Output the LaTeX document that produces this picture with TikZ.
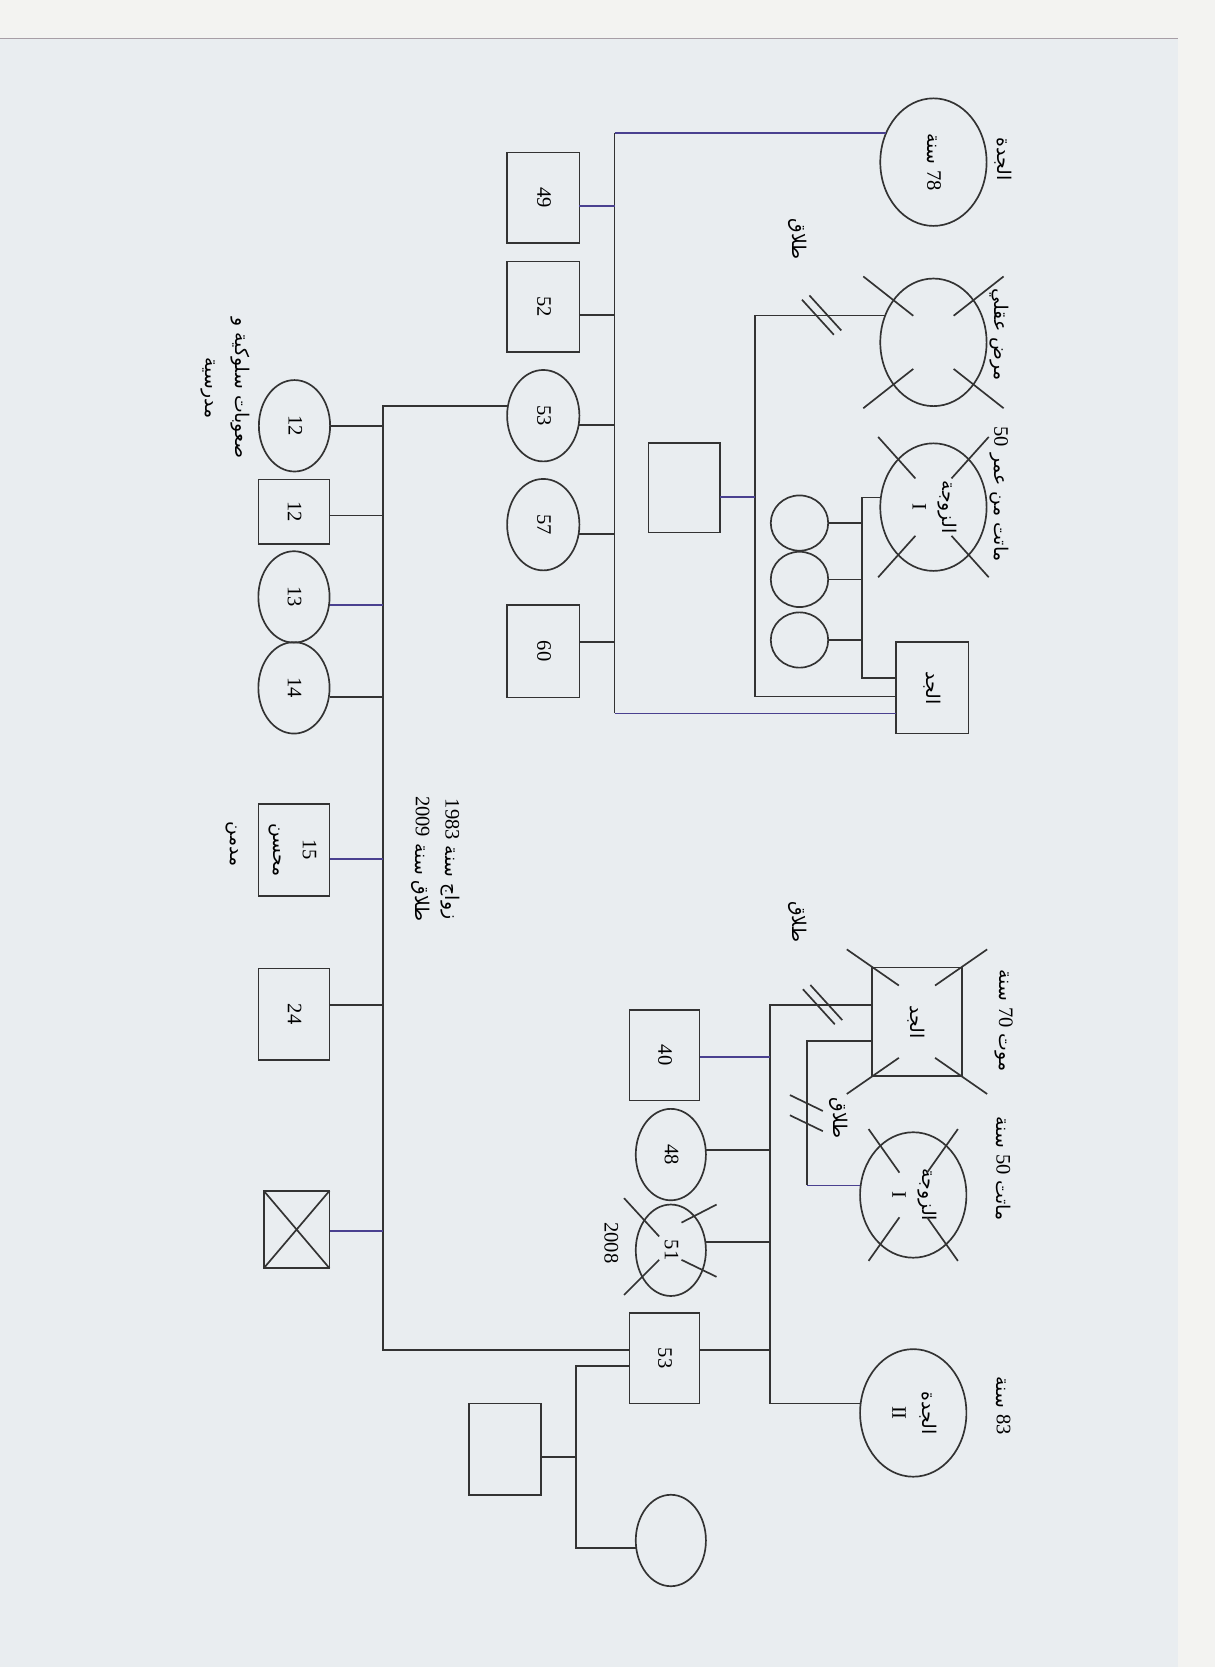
\documentclass[tikz,border=0pt]{standalone}
\usepackage{fontspec}
\usepackage{graphicx}
\setmainfont{Liberation Serif}
\newfontfamily\arabicfont[Script=Arabic,Scale=0.92]{DejaVu Sans}
\TeXXeTstate=1
\usetikzlibrary{shapes.geometric,calc}
\definecolor{ink}{HTML}{333333}
\definecolor{scanTint}{HTML}{4A4190}
\definecolor{paperFill}{HTML}{E9EDF0}
\definecolor{marginFill}{HTML}{F3F3F1}
\definecolor{edgeLine}{HTML}{A79EA6}
\newcommand{\ar}[1]{{\arabicfont\beginR #1\endR}}
\newcommand{\vt}[1]{\rotatebox[origin=c]{-90}{\begin{tabular}{@{}c@{}}#1\end{tabular}}}
\newcommand{\deadmark}[5]{%
  \draw[link] ($(#1)+(-#4,-#5)$) -- ($(#1)+(-#2,-#3)$);
  \draw[link] ($(#1)+(#2,-#3)$) -- ($(#1)+(#4,-#5)$);
  \draw[link] ($(#1)+(-#4,#5)$) -- ($(#1)+(-#2,#3)$);
  \draw[link] ($(#1)+(#2,#3)$) -- ($(#1)+(#4,#5)$);}
\newcommand{\splitH}[1]{\draw[link] ($(#1)+(-17,-15)$) -- ($(#1)+(13,18)$) ($(#1)+(-10,-19)$) -- ($(#1)+(20,14)$);}
\newcommand{\splitV}[1]{\draw[link] ($(#1)+(-16,-17)$) -- ($(#1)+(15,-2)$) ($(#1)+(-16,2)$) -- ($(#1)+(15,17)$);}
\tikzset{
  link/.style={draw=ink, line width=0.9pt},
  tintLink/.style={link, draw=scanTint},
  person/.style={draw=ink, line width=0.9pt, inner sep=0pt, outer sep=0pt,
    font=\fontsize{11}{16}\selectfont},
  maleBox/.style={person, rectangle, minimum width=13.6mm, minimum height=17mm},
  femCirc/.style={person, ellipse, minimum width=13.6mm, minimum height=17.2mm},
  elderCirc/.style={person, ellipse, minimum width=20mm, minimum height=24mm},
  tinyCirc/.style={person, ellipse, minimum width=10.8mm, minimum height=10.4mm},
  note/.style={rotate=-90, inner sep=0pt, align=center, font=\fontsize{11}{16}\selectfont},
}

\begin{document}
\begin{tikzpicture}[x=0.2mm, y=-0.2mm]
  \useasboundingbox (0,0) rectangle (1143,1568);
  \fill[marginFill] (0,0) rectangle (1143,1568);
  \fill[paperFill] (0,36) rectangle (1108,1568);
  \draw[edgeLine, line width=0.6pt] (0,36) -- (1108,36);

  \node[elderCirc] (g1) at (878,152.5) {\vt{\ar{{\rmfamily 78} سنة}}};
  \node[elderCirc] (w2) at (878,322) {};
  \node[elderCirc] (w1) at (878,477) {\vt{\ar{الزوجة}\\I}};
  \node[maleBox, minimum height=17.2mm] (gp1) at (877,647) {\vt{\ar{الجد}}};
  \node[tinyCirc] (s1) at (752,492) {};
  \node[tinyCirc] (s2) at (752,545) {};
  \node[tinyCirc] (s3) at (752,602) {};
  \node[maleBox, minimum width=13.4mm, minimum height=16.8mm] (mk) at (643.5,459) {};
  \node[maleBox] (b49) at (511,186) {\vt{49}};
  \node[maleBox] (b52) at (511,288.5) {\vt{52}};
  \node[femCirc] (c53) at (511,391) {\vt{53}};
  \node[femCirc] (c57) at (511,493.5) {\vt{57}};
  \node[maleBox, minimum height=17.4mm] (b60) at (511,612.5) {\vt{60}};

  \node[femCirc, minimum width=13.4mm] (c12) at (277,400.5) {\vt{12}};
  \node[maleBox, minimum width=13.4mm, minimum height=12.2mm] (b12) at (276.5,481.5) {\vt{12}};
  \node[femCirc, minimum width=13.4mm] (c13) at (276.5,561.5) {\vt{13}};
  \node[femCirc, minimum width=13.4mm] (c14) at (276.5,647) {\vt{14}};
  \node[maleBox, minimum width=13.4mm, minimum height=17.4mm] (b15) at (276.5,799.5) {\vt{15\\\ar{محسن}}};
  \node[maleBox, minimum width=13.4mm, minimum height=17.2mm] (b24) at (276.5,954) {\vt{24}};
  \node[maleBox, minimum width=12.4mm, minimum height=14.6mm] (bX) at (279,1156.5) {};

  \node[maleBox, minimum width=17mm, minimum height=20.4mm] (gp2) at (862.5,961) {\vt{\ar{الجد}}};
  \node[elderCirc, minimum height=23.6mm] (w1b) at (859,1124) {\vt{\ar{الزوجة}\\I}};
  \node[elderCirc] (gm2) at (859,1329) {\vt{\ar{الجدة}\\II}};
  \node[maleBox, minimum width=13.2mm] (b40) at (625,992.5) {\vt{40}};
  \node[femCirc, minimum width=13.2mm] (c48) at (631,1086) {\vt{48}};
  \node[femCirc, minimum width=13.2mm] (c51) at (631,1176) {\vt{51}};
  \node[maleBox, minimum width=13.2mm] (f53) at (625,1277.5) {\vt{53}};
  \node[maleBox, minimum height=17.2mm] (gcb) at (475,1363) {};
  \node[femCirc, minimum width=13.2mm] (gcc) at (631,1449) {};

  \node[note] (lbGm1) at (944,150) {\ar{الجدة}};
  \node[note] (lbIll) at (940,315) {\ar{مرض عقلي}};
  \node[note] (lbW1) at (940,465) {\ar{ماتت من عمر {\rmfamily 50}}};
  \node[note] (lbDiv1) at (750,225) {\ar{طلاق}};
  \node[note] (lbGp2) at (944,960) {\ar{موت {\rmfamily 70} سنة}};
  \node[note] (lbW1b) at (944,1099) {\ar{ماتت {\rmfamily 50} سنة}};
  \node[note] (lbGm2) at (944,1322) {\ar{{\rmfamily 83} سنة}};
  \node[note] (lbDiv2) at (750,867) {\ar{طلاق}};
  \node[note] (lbDiv3) at (789,1052) {\ar{طلاق}};
  \node[note] (lbDied) at (575,1169) {2008};
  \node[note] (lbSchool) at (212,365) {\ar{صعوبات سلوكية و}\\\ar{مدرسية}};
  \node[note] (lbAddict) at (218,794) {\ar{مدمن}};
  \node[note] (lbMarr) at (410,808) {\ar{زواج سنة {\rmfamily 1983}}\\\ar{طلاق سنة {\rmfamily 2009}}};

  \coordinate (aBot) at (578,671);
  \draw[tintLink] (g1.148) -- (g1.148 -| aBot);
  \draw[link] (g1.148 -| aBot) -- (aBot);
  \draw[tintLink] (aBot) -- (aBot -| gp1.west);
  \foreach \kid/\dy/\sty in {b49/8/tintLink, b52/8/link, c53/9/link, c57/8.5/link, b60/-8.5/link} {
    \path ($(\kid.east)+(0,\dy)$) coordinate (k);
    \draw[\sty] (k) -- (k -| aBot);
  }

  \coordinate (mV) at (710,655);
  \draw[link] (w2.151) -| (mV) -- (mV -| gp1.west);
  \path (w2.151) -- (w2.151 -| mV) coordinate[midway] (mDiv);
  \splitH{mDiv}
  \path ($(mk.east)+(0,8.5)$) coordinate (k);
  \draw[tintLink] (k) -- (k -| mV);

  \path ($(w1.west)+(0,-9)$) coordinate (w1m);
  \coordinate (wV) at (811,638);
  \draw[link] (w1m) -| (wV) -- (wV -| gp1.west);
  \foreach \kid in {s1,s2,s3}
    \draw[link] (\kid.east) -- (\kid.east -| wV);

  \path ($(c53.west)+(0,-9)$) coordinate (m53);
  \coordinate (bBot) at (360,1270);
  \draw[link] (m53) -| (bBot) -- (bBot -| f53.west);
  \foreach \kid/\dy/\sty in {c12/0/link, b12/3.5/link, c13/7.5/tintLink, c14/8.5/link, b15/8.5/tintLink, b24/-8.5/link, bX/1.5/tintLink} {
    \path ($(\kid.east)+(0,\dy)$) coordinate (k);
    \draw[\sty] (k) -- (k -| bBot);
  }
  \draw[link] (bX.north west) -- (bX.south east) (bX.north east) -- (bX.south west);

  \path ($(gp2.west)+(0,-15.5)$) coordinate (gpa);
  \coordinate (cBot) at (724.5,1320);
  \draw[link] (gpa) -| (cBot) -- (cBot -| gm2.west);
  \path (gpa) -- (gpa -| cBot) coordinate[midway] (gDiv);
  \splitH{gDiv}
  \foreach \kid/\dy/\sty in {b40/2/tintLink, c48/-4/link, c51/-8/link, f53/-7.5/link} {
    \path ($(\kid.east)+(0,\dy)$) coordinate (k);
    \draw[\sty] (k) -- (k -| cBot);
  }
  \path ($(gp2.west)+(0,18)$) coordinate (gpb);
  \coordinate (wbV) at (759,1115);
  \draw[link] (gpb) -| (wbV);
  \draw[tintLink] (wbV) -- (wbV -| w1b.west);
  \path (gpb -| wbV) -- (wbV) coordinate[midway] (vDiv);
  \splitV{vDiv}

  \path ($(f53.west)+(0,7.5)$) coordinate (fm);
  \coordinate (dBot) at (541.5,1456);
  \draw[link] (fm) -| (dBot) -- (dBot -| gcc.west);
  \path ($(gcb.east)+(0,7.6)$) coordinate (k);
  \draw[link] (k) -- (k -| dBot);

  \deadmark{w2}{19}{25}{66}{62}
  \deadmark{w1}{17}{27}{52}{66}
  \deadmark{gp2}{17}{34}{66}{68}
  \deadmark{w1b}{13}{21}{42}{62}
  \draw[link] ($(c51)+(-44,-49)$) -- ($(c51)+(-11,-13)$);
  \draw[link] ($(c51)+(10,-26)$) -- ($(c51)+(43,-43)$);
  \draw[link] ($(c51)+(-44,42)$) -- ($(c51)+(-11,9)$);
  \draw[link] ($(c51)+(10,9)$) -- ($(c51)+(43,25)$);
\end{tikzpicture}
\end{document}
